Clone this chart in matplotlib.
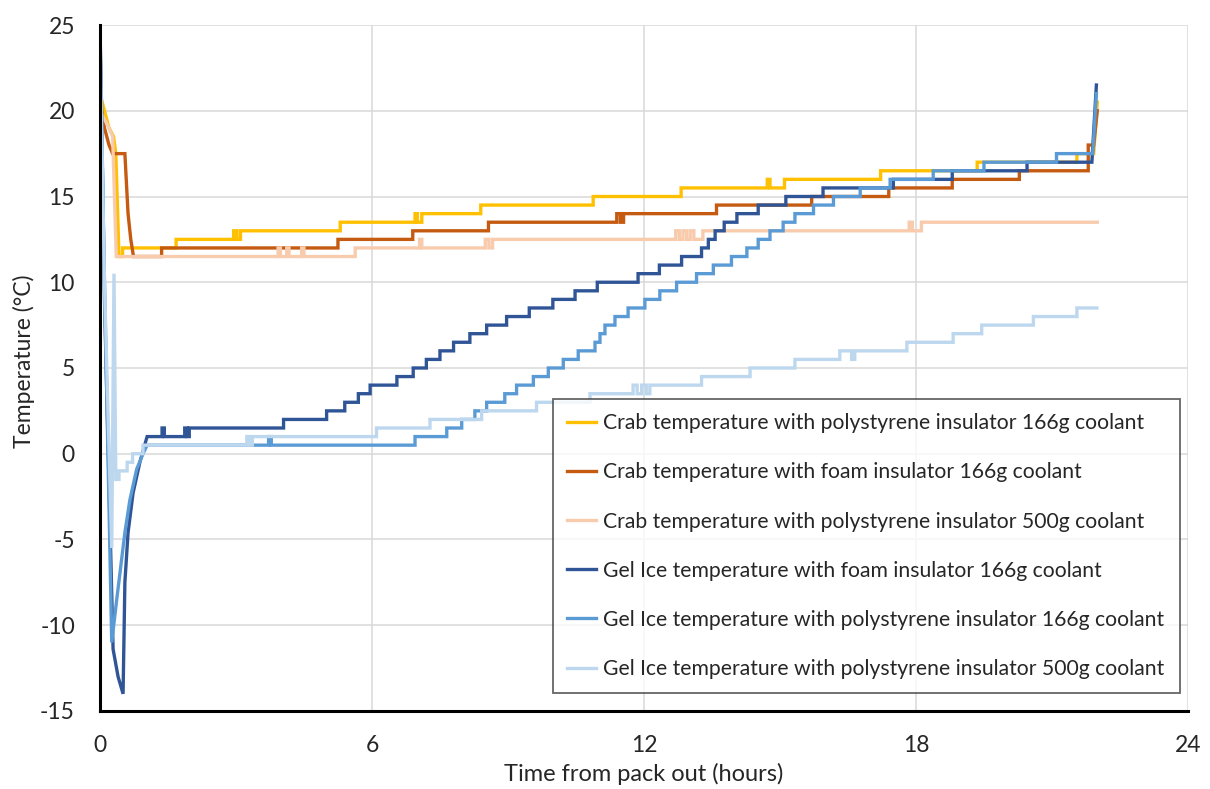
import matplotlib.pyplot as plt

# time (hours) / temperature (degC)
# each series: a ramp at the start (straight lines), then 0.5 degC steps, then the end
cp166_ramp_t = [0, 0.1, 0.2, 0.3, 0.35, 0.42]
cp166_ramp_T = [21, 20, 19, 18.5, 17.5, 11.5]
cp166_step_t = [0.42, 0.5, 1.68, 2.95, 3.02, 3.1, 5.3, 6.95, 7.0, 7.1, 8.4, 10.88,
                12.82, 14.72, 14.78, 15.1, 17.22, 19.35, 21.55]
cp166_step_T = [11.5, 12.0, 12.5, 13.0, 12.5, 13.0, 13.5, 14.0, 13.5, 14.0, 14.5, 15.0,
                15.5, 16.0, 15.5, 16.0, 16.5, 17.0, 17.5]
cp166_end_t = [21.92, 22.0]
cp166_end_T = [17.5, 20.5]

cf166_ramp_t = [0, 0.1, 0.2, 0.28, 0.55, 0.62, 0.68, 0.74]
cf166_ramp_T = [20.5, 19, 18, 17.5, 17.5, 14, 12.5, 11.5]
cf166_step_t = [0.74, 1.36, 5.25, 6.9, 8.57, 11.4, 11.48, 11.55, 13.6, 15.7, 17.4, 18.8,
                20.28, 21.8]
cf166_step_T = [11.5, 12.0, 12.5, 13.0, 13.5, 14.0, 13.5, 14.0, 14.5, 15.0, 15.5, 16.0,
                16.5, 18.0]
cf166_end_t = [21.92, 22.0]
cf166_end_T = [18.0, 20.0]

cp500_ramp_t = [0, 0.1, 0.2, 0.28, 0.36]
cp500_ramp_T = [20, 19.5, 19, 18.5, 11.5]
cp500_step_t = [0.36, 3.93, 3.98, 4.12, 4.17, 4.45, 4.5, 5.63, 7.05, 7.1, 8.5, 8.58,
                8.66, 12.7, 12.78, 12.86, 12.94, 13.02, 13.1, 13.3, 17.85, 17.92, 18.12]
cp500_step_T = [11.5, 12.0, 11.5, 12.0, 11.5, 12.0, 11.5, 12.0, 12.5, 12.0, 12.5, 12.0,
                12.5, 13.0, 12.5, 13.0, 12.5, 13.0, 12.5, 13.0, 13.5, 13.0, 13.5]
cp500_end_t = [22.0]
cp500_end_T = [13.5]

gf166_ramp_t = [0, 0.03, 0.1, 0.29, 0.4, 0.51, 0.55, 0.62, 0.73, 0.88, 1.04]
gf166_ramp_T = [25, 21, 9, -11.4, -13, -14, -7.5, -4.6, -2.3, -0.5, 1.0]
gf166_step_t = [1.04, 1.37, 1.42, 1.87, 1.92, 1.97, 4.05, 5.0, 5.4, 5.7, 5.96, 6.55,
                6.91, 7.2, 7.5, 7.8, 8.16, 8.53, 8.97, 9.47, 9.99, 10.48, 10.97, 11.87,
                12.34, 12.83, 13.27, 13.42, 13.57, 13.77, 14.05, 14.52, 15.13, 15.95,
                17.5, 18.8, 20.45]
gf166_step_T = [1.0, 1.5, 1.0, 1.5, 1.0, 1.5, 2.0, 2.5, 3.0, 3.5, 4.0, 4.5,
                5.0, 5.5, 6.0, 6.5, 7.0, 7.5, 8.0, 8.5, 9.0, 9.5, 10.0, 10.5,
                11.0, 11.5, 12.0, 12.5, 13.0, 13.5, 14.0, 14.5, 15.0, 15.5,
                16.0, 16.5, 17.0]
gf166_end_t = [21.88, 21.98]
gf166_end_T = [17.0, 21.5]

gp166_ramp_t = [0, 0.03, 0.1, 0.26, 0.37, 0.55, 0.66, 0.81, 0.95, 1.04]
gp166_ramp_T = [24.5, 20, 10, -11, -8.5, -4.6, -2.7, -0.9, 0.0, 0.5]
gp166_step_t = [1.04, 3.72, 3.78, 6.95, 7.65, 7.98, 8.27, 8.53, 8.93, 9.19, 9.56, 9.89,
                10.22, 10.55, 10.92, 11.03, 11.14, 11.36, 11.65, 12.02, 12.35, 12.72,
                13.16, 13.53, 13.93, 14.27, 14.52, 14.78, 15.07, 15.33, 15.74, 16.18,
                16.77, 17.43, 18.38, 19.5, 21.1]
gp166_step_T = [0.5, 1.0, 0.5, 1.0, 1.5, 2.0, 2.5, 3.0, 3.5, 4.0, 4.5, 5.0,
                5.5, 6.0, 6.5, 7.0, 7.5, 8.0, 8.5, 9.0, 9.5, 10.0,
                10.5, 11.0, 11.5, 12.0, 12.5, 13.0, 13.5, 14.0, 14.5, 15.0,
                15.5, 16.0, 16.5, 17.0, 17.5]
gp166_end_t = [21.9, 21.98]
gp166_end_T = [17.5, 21.0]

gp500_ramp_t = [0, 0.03, 0.1, 0.26, 0.31, 0.35]
gp500_ramp_T = [24, 20, 10, -5.5, 10.5, -1.5]
gp500_step_t = [0.35, 0.42, 0.6, 0.72, 0.95, 3.24, 3.3, 3.36, 6.1, 7.28, 8.42, 9.63,
                10.81, 11.76, 11.85, 11.95, 12.05, 12.13, 13.27, 14.34, 15.33, 16.32,
                16.58, 16.65, 17.8, 18.82, 19.45, 20.59, 21.55]
gp500_step_T = [-1.5, -1.0, -0.5, 0.0, 0.5, 1.0, 0.5, 1.0, 1.5, 2.0, 2.5, 3.0,
                3.5, 4.0, 3.5, 4.0, 3.5, 4.0, 4.5, 5.0, 5.5, 6.0,
                5.5, 6.0, 6.5, 7.0, 7.5, 8.0, 8.5]
gp500_end_t = [21.99]
gp500_end_T = [8.5]

labels = ["Crab temperature with polystyrene insulator 166g coolant",
          "Crab temperature with foam insulator 166g coolant",
          "Crab temperature with polystyrene insulator 500g coolant",
          "Gel Ice temperature with foam insulator 166g coolant",
          "Gel Ice temperature with polystyrene insulator 166g coolant",
          "Gel Ice temperature with polystyrene insulator 500g coolant"]
colors = ["#FFC000", "#C55A11", "#F8CBAD", "#2F5597", "#5B9BD5", "#BDD7EE"]


def trace(ramp_t, ramp_T, step_t, step_T, end_t, end_T):
    xs = list(ramp_t)
    ys = list(ramp_T)
    for i in range(len(step_t)):
        nxt = step_t[i + 1] if i + 1 < len(step_t) else end_t[0]
        xs += [step_t[i], nxt]
        ys += [step_T[i], step_T[i]]
    xs += list(end_t)
    ys += list(end_T)
    return xs, ys


series = [
    trace(cp166_ramp_t, cp166_ramp_T, cp166_step_t, cp166_step_T, cp166_end_t, cp166_end_T),
    trace(cf166_ramp_t, cf166_ramp_T, cf166_step_t, cf166_step_T, cf166_end_t, cf166_end_T),
    trace(cp500_ramp_t, cp500_ramp_T, cp500_step_t, cp500_step_T, cp500_end_t, cp500_end_T),
    trace(gf166_ramp_t, gf166_ramp_T, gf166_step_t, gf166_step_T, gf166_end_t, gf166_end_T),
    trace(gp166_ramp_t, gp166_ramp_T, gp166_step_t, gp166_step_T, gp166_end_t, gp166_end_T),
    trace(gp500_ramp_t, gp500_ramp_T, gp500_step_t, gp500_step_T, gp500_end_t, gp500_end_T),
]

plt.rcParams['font.family'] = ['Lato', 'DejaVu Sans']
plt.rcParams['axes.unicode_minus'] = False

fig = plt.figure(figsize=(12.1, 7.89), dpi=100)
ax = fig.add_axes([0.0826, 0.0989, 0.8992, 0.8694])

for (xs, ys), lab, col in zip(series, labels, colors):
    ax.plot(xs, ys, color=col, lw=2.4, label=lab, solid_joinstyle='miter')

ax.set_xlim(0, 24)
ax.set_ylim(-15, 25)
ax.set_xticks([0, 6, 12, 18, 24])
ax.set_yticks(range(-15, 26, 5))
ax.grid(True, color='#D9D9D9', lw=1.1)
ax.set_axisbelow(True)
for s in ['top', 'right']:
    ax.spines[s].set_visible(False)
for s in ['left', 'bottom']:
    ax.spines[s].set_color('black')
    ax.spines[s].set_linewidth(2.2)
ax.tick_params(length=0, labelsize=16.5, colors='#262626')
ax.tick_params(axis='y', pad=18)
ax.tick_params(axis='x', pad=17)

ax.set_xlabel("Time from pack out (hours)", fontsize=17, color='#262626')
ax.set_ylabel("Temperature (°C)", fontsize=16.5, color='#262626')
ax.xaxis.set_label_coords(0.5, -0.075)
ax.yaxis.set_label_coords(-0.06, 0.51)

leg = ax.legend(loc='lower left', bbox_to_anchor=(0.416, 0.026, 0.577, 0.417), mode='expand',
                fontsize=15.2, frameon=True, fancybox=False, handlelength=1.4,
                handletextpad=0.3, labelspacing=1.38, borderpad=0.67, borderaxespad=0)
leg.get_frame().set_edgecolor('#404040')
leg.get_frame().set_linewidth(1.3)
for t in leg.get_texts():
    t.set_color('#262626')

fig.savefig("out.png", dpi=100)
